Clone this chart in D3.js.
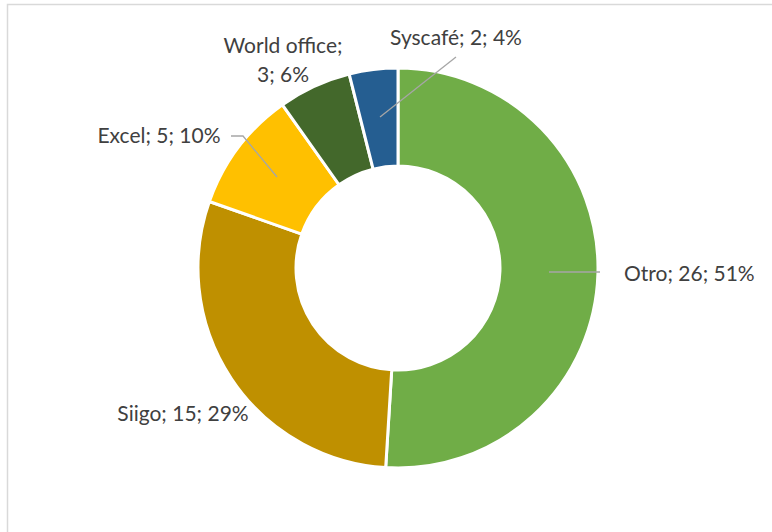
<!DOCTYPE html>
<html><head><meta charset="utf-8">
<script src="https://cdn.jsdelivr.net/npm/d3@7"></script>
<style>body{margin:0;background:#fff}svg{display:block}</style>
</head><body>
<script>
const categories = ["Otro", "Siigo", "Excel", "World office", "Syscafé"];
const values = [26, 15, 5, 3, 2];
const percents = ["51%", "29%", "10%", "6%", "4%"];
const colors = ["#70ad47", "#bf9000", "#ffc000", "#43682b", "#255e91"];

const W = 772, H = 532;
const svg = d3.select("body").append("svg").attr("width", W).attr("height", H);
svg.append("rect").attr("x", 7.5).attr("y", 4.5).attr("width", 800).attr("height", 600)
  .attr("fill", "#fff").attr("stroke", "#d9d9d9").attr("stroke-width", 1.5);

const cx = 398, cy = 268, R = 200, r = 102;
const data = categories.map((c, i) => ({ c, v: values[i], p: percents[i], col: colors[i] }));
const pie = d3.pie().value(d => d.v).sort(null);
const arc = d3.arc().innerRadius(r).outerRadius(R);
const arcs = pie(data);
const g = svg.append("g").attr("transform", `translate(${cx},${cy})`);
g.selectAll("path").data(arcs).join("path")
  .attr("d", arc).attr("fill", d => d.data.col)
  .attr("stroke", "#fff").attr("stroke-width", 3).attr("stroke-linejoin", "miter");

const labelPos = [
  { lines: [(d) => `${d.c}; ${d.v}; ${d.p}`], x: 624, y: 281, anchor: "start", leader: [[549, 272], [600, 272]] },
  { lines: [(d) => `${d.c}; ${d.v}; ${d.p}`], x: 183, y: 421, anchor: "middle", leader: null },
  { lines: [(d) => `${d.c}; ${d.v}; ${d.p}`], x: 159, y: 143, anchor: "middle", leader: [[277, 177], [243, 136], [231, 136]] },
  { lines: [(d) => `${d.c};`, (d) => `${d.v}; ${d.p}`], x: 283, y: 53, anchor: "middle", leader: null },
  { lines: [(d) => `${d.c}; ${d.v}; ${d.p}`], x: 456, y: 45, anchor: "middle", leader: [[380, 117], [456, 57]] }
];

arcs.forEach((a, i) => {
  const lp = labelPos[i];
  if (lp.leader) {
    svg.append("path").attr("d", d3.line()(lp.leader))
      .attr("fill", "none").attr("stroke", "#a6a6a6").attr("stroke-width", 1.3);
  }
  const t = svg.append("text").attr("x", lp.x).attr("y", lp.y)
    .attr("text-anchor", lp.anchor)
    .attr("font-family", "Lato, 'Open Sans', sans-serif").attr("font-size", 21).attr("fill", "#404040");
  lp.lines.forEach((fn, j) => {
    t.append("tspan").attr("x", lp.x).attr("dy", j === 0 ? 0 : 29).text(fn(a.data));
  });
});
</script>
</body></html>
